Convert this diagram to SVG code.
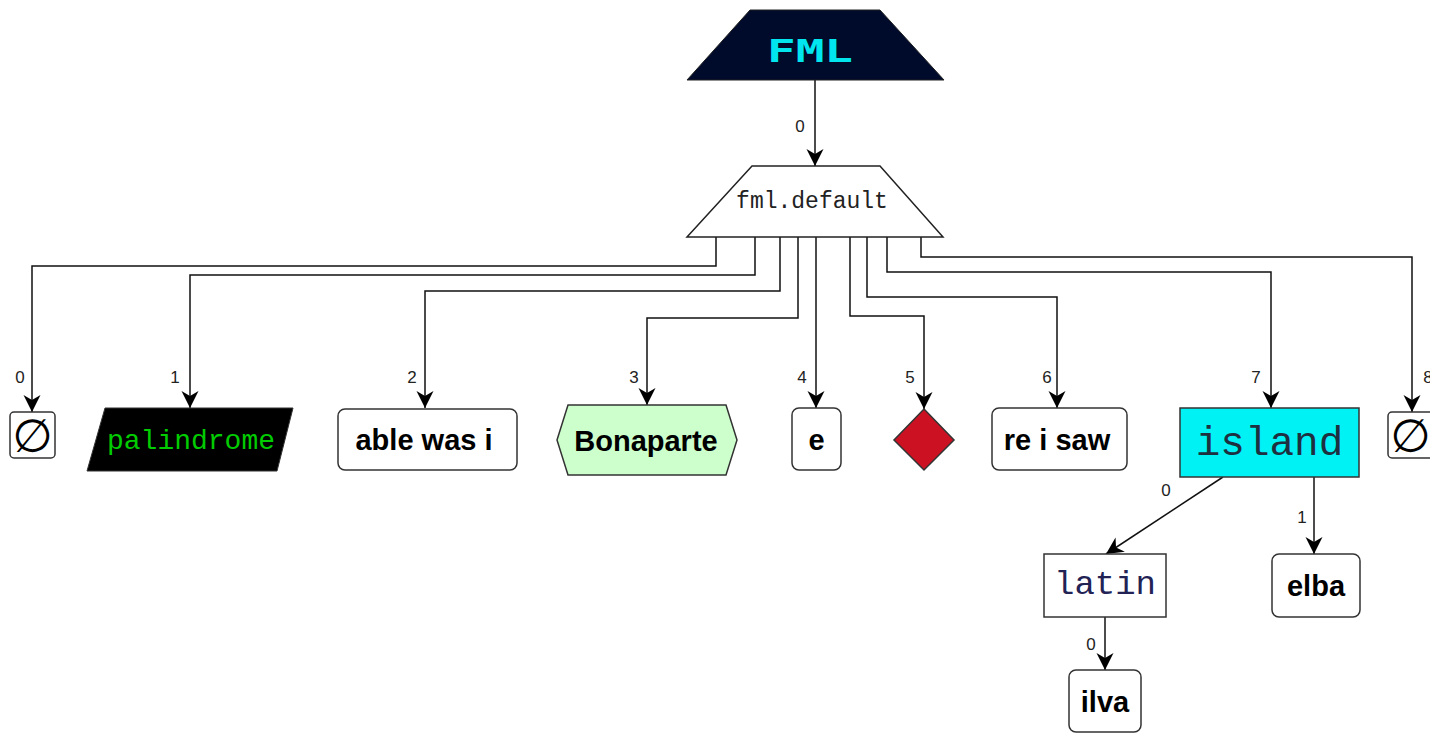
<svg xmlns="http://www.w3.org/2000/svg" width="1430" height="733" viewBox="0 0 1430 733">
  <style>
    .edge { fill: none; stroke: #111; stroke-width: 1.5; marker-end: url(#arrow); }
    .elabel { font-family: "Liberation Sans", Arial, sans-serif; font-size: 17px; fill: #222; text-anchor: middle; }
    .box { fill: #fff; stroke: #333; stroke-width: 1.5; }
    .sans { font-family: "Liberation Sans", Arial, sans-serif; font-weight: bold; font-size: 29px; fill: #000; text-anchor: middle; }
    .mono { font-family: "Liberation Mono", "Courier New", monospace; text-anchor: middle; }
    .nil { font-family: "DejaVu Sans", sans-serif; font-size: 46px; fill: #000; text-anchor: middle; }
  </style>
  <defs>
    <marker id="arrow" markerUnits="userSpaceOnUse" viewBox="-1 -10 19 20" markerWidth="19" markerHeight="20" refX="17" refY="0" orient="auto">
      <path d="M17,0 L0,-8.5 L5,0 L0,8.5 Z" fill="#000"/>
    </marker>
  </defs>
  <rect width="1430" height="733" fill="#fff"/>

  <!-- connectors -->
  <g id="edges">
    <path class="edge" d="M815,80 V166"/>
    <path class="edge" d="M716,237 V266 H32 V412"/>
    <path class="edge" d="M755,237 V275 H190 V408"/>
    <path class="edge" d="M780,237 V291 H425 V408"/>
    <path class="edge" d="M798,237 V318 H647 V405"/>
    <path class="edge" d="M816,237 V408"/>
    <path class="edge" d="M850,237 V316 H924 V409"/>
    <path class="edge" d="M867,237 V297 H1057 V408"/>
    <path class="edge" d="M887,237 V272 H1271 V408"/>
    <path class="edge" d="M921,237 V257 H1412 V412"/>
    <path class="edge" d="M1223,477 L1106,554"/>
    <path class="edge" d="M1314,477 V554"/>
    <path class="edge" d="M1105,617 V670"/>
    <text class="elabel" x="800" y="132">0</text>
    <text class="elabel" x="20" y="383">0</text>
    <text class="elabel" x="175" y="383">1</text>
    <text class="elabel" x="412" y="383">2</text>
    <text class="elabel" x="634" y="383">3</text>
    <text class="elabel" x="802" y="383">4</text>
    <text class="elabel" x="910" y="383">5</text>
    <text class="elabel" x="1047" y="383">6</text>
    <text class="elabel" x="1256" y="383">7</text>
    <text class="elabel" x="1428" y="383">8</text>
    <text class="elabel" x="1166" y="496">0</text>
    <text class="elabel" x="1302" y="523">1</text>
    <text class="elabel" x="1091" y="650">0</text>
  </g>

  <g id="fml">
    <polygon points="750,10 880,10 944,80 687,80" fill="#000a2a" stroke="#222" stroke-width="1"/>
    <text x="810" y="62" font-family="DejaVu Sans Mono, monospace" font-weight="bold" font-size="32" fill="#00e5ee" text-anchor="middle" textLength="86" lengthAdjust="spacingAndGlyphs">FML</text>
  </g>

  <g id="fml-default">
    <polygon points="752,166 880,166 943,237 687,237" fill="#fff" stroke="#222" stroke-width="1.5"/>
    <text class="mono" x="812" y="208" font-size="23" fill="#222">fml.default</text>
  </g>

  <g id="nil-0">
    <rect class="box" x="10" y="412" width="45" height="46" rx="4"/>
    <text class="nil" x="32.5" y="452">∅</text>
  </g>

  <g id="palindrome">
    <polygon points="105,408 293,408 277,471 87,471" fill="#000" stroke="#333" stroke-width="1"/>
    <text class="mono" x="191" y="449" font-size="28" fill="#00cc00">palindrome</text>
  </g>

  <g id="able-was-i">
    <rect class="box" x="338" y="409" width="179" height="61" rx="7"/>
    <text class="sans" x="424" y="450">able was i</text>
  </g>

  <g id="bonaparte">
    <polygon points="568,405 726,405 737,440 726,475 568,475 557,440" fill="#ccffcc" stroke="#333" stroke-width="1.5"/>
    <text class="sans" x="646" y="451">Bonaparte</text>
  </g>

  <g id="e">
    <rect class="box" x="792" y="408" width="49" height="62" rx="7"/>
    <text class="sans" x="816.5" y="450">e</text>
  </g>

  <g id="diamond">
    <polygon points="924,409 954,440 924,470 894,440" fill="#cc1122" stroke="#333" stroke-width="1.5"/>
  </g>

  <g id="re-i-saw">
    <rect class="box" x="992" y="408" width="135" height="62" rx="7"/>
    <text class="sans" x="1057" y="450">re i saw</text>
  </g>

  <g id="island">
    <rect x="1180" y="408" width="179" height="69" fill="#00f2f5" stroke="#333" stroke-width="1.5"/>
    <text class="mono" x="1269.5" y="455" font-size="41" fill="#1e3040">island</text>
  </g>

  <g id="nil-8">
    <rect class="box" x="1388" y="412" width="45" height="46" rx="4"/>
    <text class="nil" x="1410.5" y="452">∅</text>
  </g>

  <g id="latin">
    <rect class="box" x="1044" y="554" width="122" height="63"/>
    <text class="mono" x="1105" y="594" font-size="34" fill="#222255">latin</text>
  </g>

  <g id="elba">
    <rect class="box" x="1272" y="554" width="88" height="63" rx="7"/>
    <text class="sans" x="1316" y="596">elba</text>
  </g>

  <g id="ilva">
    <rect class="box" x="1069" y="670" width="72" height="62" rx="7"/>
    <text class="sans" x="1105" y="712">ilva</text>
  </g>
</svg>
